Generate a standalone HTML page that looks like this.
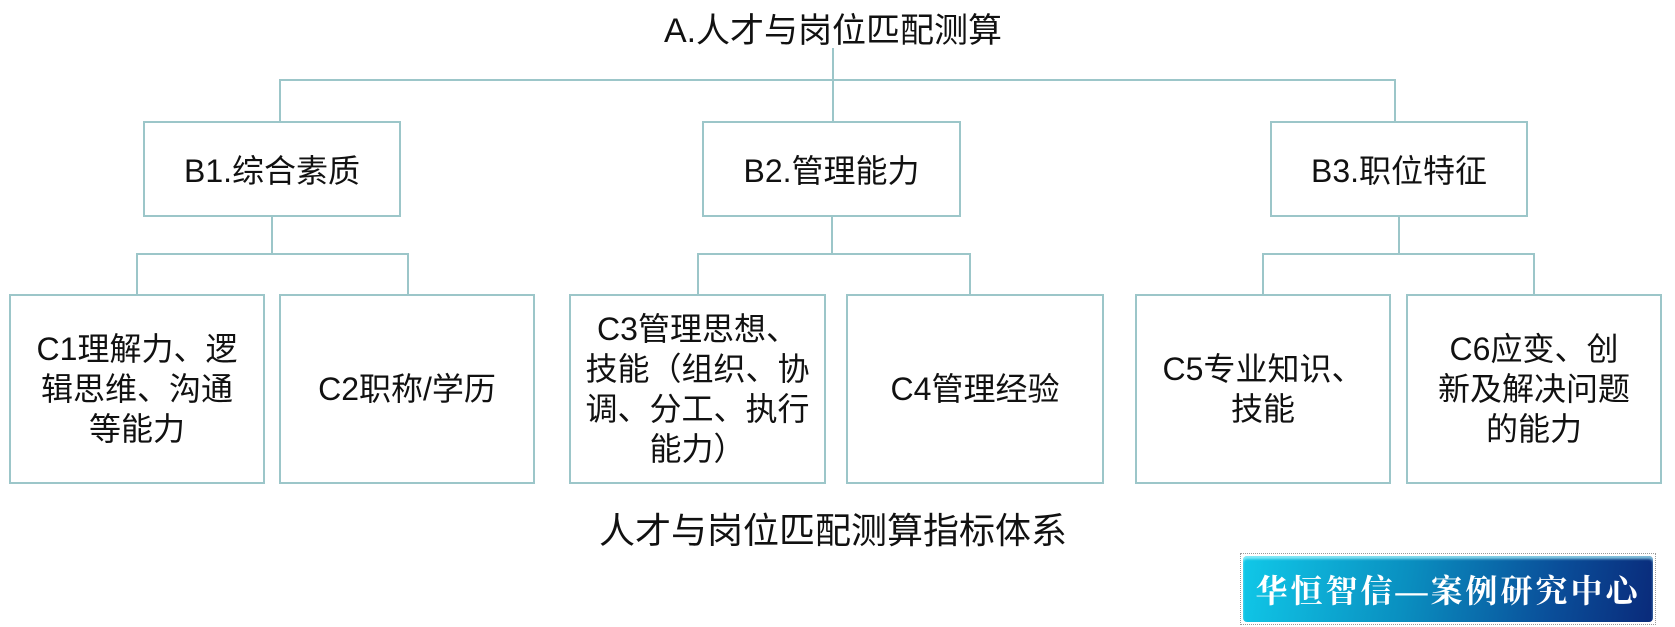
<!DOCTYPE html>
<html><head><meta charset="utf-8"><style>
html,body{margin:0;padding:0;background:#fff;}
body{width:1675px;height:627px;position:relative;overflow:hidden;font-family:"Liberation Sans","Noto Sans CJK SC",sans-serif;color:#111;}
.b{position:absolute;border:2px solid #9cc6c9;box-sizing:border-box;display:flex;align-items:center;justify-content:center;text-align:center;background:#fff;}
.bb{font-size:32px;}
.cc{font-size:32px;line-height:40px;white-space:nowrap;}
.l{position:absolute;background:#9cc6c9;}
.t{position:absolute;white-space:nowrap;transform:translateX(-50%);}
</style></head><body>
<div class="t" style="left:833px;top:3px;font-size:34px;">A.人才与岗位匹配测算</div>
<div class="l" style="left:832px;top:48px;width:2px;height:33px"></div>
<div class="l" style="left:279px;top:79px;width:1117px;height:2px"></div>
<div class="l" style="left:279px;top:79px;width:2px;height:43px"></div>
<div class="l" style="left:832px;top:79px;width:2px;height:43px"></div>
<div class="l" style="left:1394px;top:79px;width:2px;height:43px"></div>

<div class="b bb" style="left:143px;top:121px;width:258px;height:96px">B1.综合素质</div>
<div class="b bb" style="left:702px;top:121px;width:259px;height:96px">B2.管理能力</div>
<div class="b bb" style="left:1270px;top:121px;width:258px;height:96px">B3.职位特征</div>

<div class="l" style="left:271px;top:216px;width:2px;height:38px"></div>
<div class="l" style="left:136px;top:253px;width:273px;height:2px"></div>
<div class="l" style="left:136px;top:253px;width:2px;height:42px"></div>
<div class="l" style="left:407px;top:253px;width:2px;height:42px"></div>

<div class="l" style="left:831px;top:216px;width:2px;height:38px"></div>
<div class="l" style="left:697px;top:253px;width:274px;height:2px"></div>
<div class="l" style="left:697px;top:253px;width:2px;height:42px"></div>
<div class="l" style="left:969px;top:253px;width:2px;height:42px"></div>

<div class="l" style="left:1398px;top:216px;width:2px;height:38px"></div>
<div class="l" style="left:1262px;top:253px;width:273px;height:2px"></div>
<div class="l" style="left:1262px;top:253px;width:2px;height:42px"></div>
<div class="l" style="left:1533px;top:253px;width:2px;height:42px"></div>

<div class="b cc" style="left:9px;top:294px;width:256px;height:190px">C1理解力、逻<br>辑思维、沟通<br>等能力</div>
<div class="b cc" style="left:279px;top:294px;width:256px;height:190px">C2职称/学历</div>
<div class="b cc" style="left:569px;top:294px;width:257px;height:190px">C3管理思想、<br>技能（组织、协<br>调、分工、执行<br>能力）</div>
<div class="b cc" style="left:846px;top:294px;width:258px;height:190px">C4管理经验</div>
<div class="b cc" style="left:1135px;top:294px;width:256px;height:190px">C5专业知识、<br>技能</div>
<div class="b cc" style="left:1406px;top:294px;width:256px;height:190px">C6应变、创<br>新及解决问题<br>的能力</div>

<div class="t" style="left:833px;top:502px;font-size:36px;">人才与岗位匹配测算指标体系</div>

<div style="position:absolute;left:1240px;top:553px;width:416px;height:72px;border:1px dotted #999;box-sizing:border-box;padding:2px;">
<div style="width:100%;height:100%;border-radius:4px;background:linear-gradient(100deg,#10c8e8 0%,#0a8fc0 40%,#0a4f9a 75%,#0a2a7a 100%);box-shadow:inset 0 3px 2px rgba(180,250,255,.7);display:flex;align-items:center;justify-content:center;color:#fff;font-family:'Liberation Serif','Noto Serif CJK SC',serif;font-weight:bold;font-size:32px;letter-spacing:3px;">华恒智信—案例研究中心</div>
</div>
</body></html>
